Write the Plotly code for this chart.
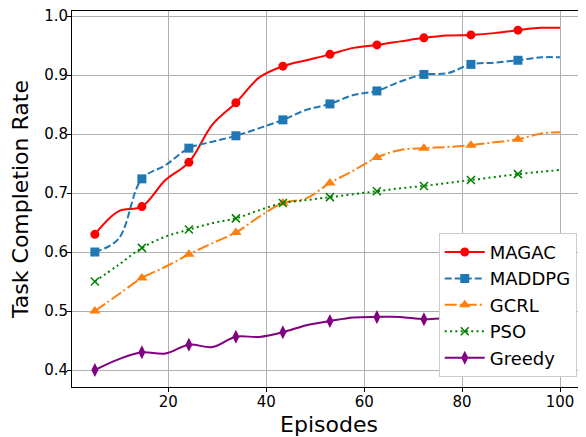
import plotly.graph_objects as go

# Episode positions where values were read (markers at every other point)
episodes = [5, 9.8, 14.6, 19.4, 24.2, 29, 33.8, 38.6, 43.4, 48.2, 53,
            57.8, 62.6, 67.4, 72.2, 77, 81.8, 86.6, 91.4, 96.2, 100]

magac = [0.630, 0.669, 0.677, 0.722, 0.752, 0.816, 0.853, 0.896, 0.915, 0.925, 0.935,
         0.946, 0.951, 0.957, 0.963, 0.967, 0.968, 0.971, 0.976, 0.980, 0.980]
maddpg = [0.600, 0.622, 0.724, 0.747, 0.776, 0.787, 0.797, 0.810, 0.824, 0.841, 0.851,
          0.866, 0.873, 0.889, 0.901, 0.903, 0.918, 0.921, 0.925, 0.930, 0.930]
gcrl = [0.500, 0.528, 0.556, 0.575, 0.596, 0.615, 0.633, 0.660, 0.683, 0.691, 0.717,
        0.738, 0.760, 0.773, 0.776, 0.778, 0.781, 0.786, 0.791, 0.801, 0.803]
pso = [0.550, 0.578, 0.607, 0.626, 0.638, 0.649, 0.657, 0.671, 0.683, 0.688, 0.693,
       0.698, 0.703, 0.708, 0.712, 0.717, 0.722, 0.727, 0.732, 0.736, 0.739]
greedy = [0.400, 0.418, 0.430, 0.428, 0.443, 0.439, 0.4565, 0.456, 0.464, 0.476, 0.483,
          0.489, 0.490, 0.490, 0.486, 0.488, 0.490, 0.492, 0.494, 0.496, 0.497]

names = ["MAGAC", "MADDPG", "GCRL", "PSO", "Greedy"]
series = [magac, maddpg, gcrl, pso, greedy]
colors = ["#ff0000", "#1f77b4", "#ff7f0e", "#008000", "#800080"]
dashes = ["solid", "7px,3px", "12px,3px,2px,3px", "2px,3.3px", "solid"]
symbols = ["circle", "square", "triangle-up", "x-thin", "diamond-tall"]
msizes = [9, 9, 10, 8, 10]

x_ticks = [20, 40, 60, 80, 100]
y_ticks = [0.4, 0.5, 0.6, 0.7, 0.8, 0.9, 1.0]

mark_idx = list(range(0, len(episodes) - 1, 2))

fig = go.Figure()
for name, ys, c, d, s, ms in zip(names, series, colors, dashes, symbols, msizes):
    fig.add_trace(go.Scatter(
        x=episodes, y=ys, mode="lines", showlegend=False,
        line=dict(color=c, width=2, dash=d, shape="spline", smoothing=1),
        hoverinfo="skip"))
    mk = dict(symbol=s, size=ms, color=c)
    if s == "x-thin":
        mk["line"] = dict(color=c, width=1.5)
    fig.add_trace(go.Scatter(
        x=[episodes[i] for i in mark_idx], y=[ys[i] for i in mark_idx],
        mode="markers", showlegend=False, marker=mk))
    fig.add_trace(go.Scatter(
        x=[None], y=[None], mode="lines+markers", name=name,
        line=dict(color=c, width=2, dash=d), marker=mk))

font_family = "DejaVu Sans"
# the page body adds an 8px offset; the figure is sized/margined to compensate
fig.update_layout(
    width=578, height=429,
    margin=dict(l=64, r=0, t=3, b=50),
    plot_bgcolor="white", paper_bgcolor="white",
    font=dict(family=font_family, color="black"),
    legend=dict(
        x=0.982, y=0.027, xanchor="right", yanchor="bottom",
        bgcolor="white", bordercolor="#cccccc", borderwidth=1,
        font=dict(size=18, family=font_family), itemwidth=40,
    ),
    xaxis=dict(
        range=[0.33, 105.3], tickvals=x_ticks, ticktext=[str(v) for v in x_ticks],
        showgrid=True, gridcolor="#b0b0b0", gridwidth=1,
        showline=True, linecolor="black", linewidth=1, mirror=True,
        ticks="outside", ticklen=4, tickcolor="black", ticklabelstandoff=-3,
        tickfont=dict(size=15), zeroline=False,
        title=dict(text="Episodes", font=dict(size=22), standoff=7),
    ),
    yaxis=dict(
        range=[0.3712, 1.0085], tickvals=y_ticks, ticktext=[f"{v:.1f}" for v in y_ticks],
        showgrid=True, gridcolor="#b0b0b0", gridwidth=1,
        showline=True, linecolor="black", linewidth=1, mirror=False,
        ticks="outside", ticklen=4, tickcolor="black", ticklabelstandoff=-4,
        ticklabeloverflow="allow",
        tickfont=dict(size=15), zeroline=False,
        title=dict(text="Task Completion Rate", font=dict(size=22), standoff=12),
    ),
)

fig.write_html("out.html")
